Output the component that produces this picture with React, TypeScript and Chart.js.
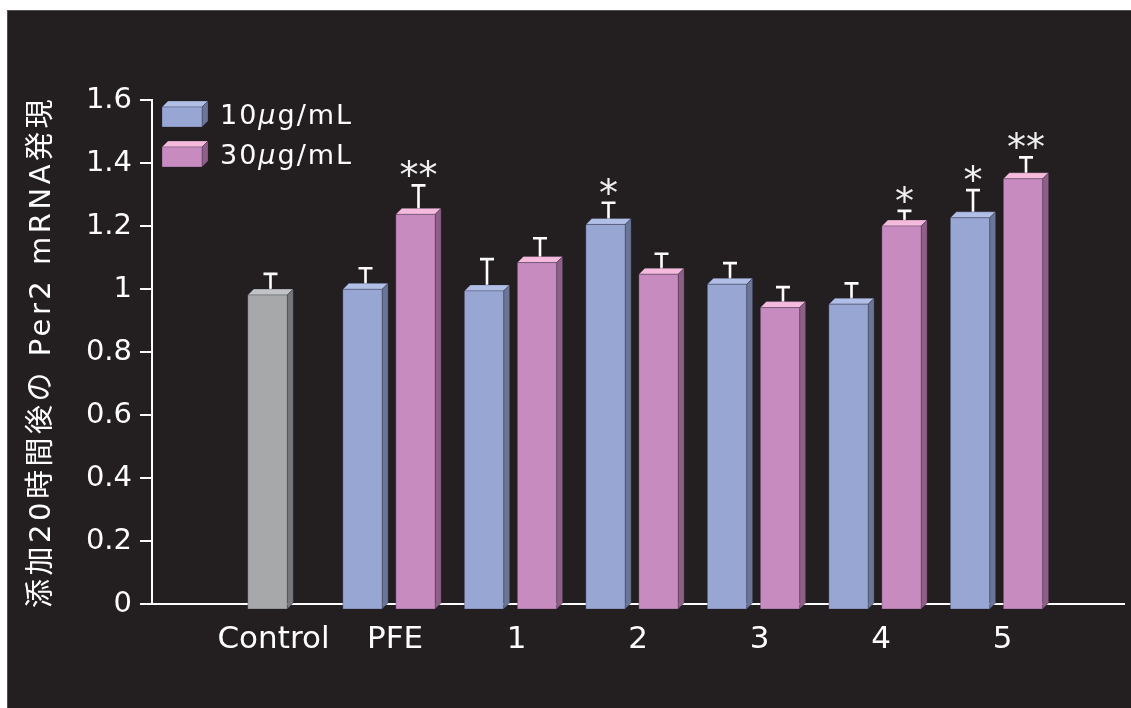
import React, { useEffect, useRef } from 'react';
import { Chart, registerables } from 'chart.js';
Chart.register(...registerables);

// ---- data ----
const categories = ['Control', 'PFE', '1', '2', '3', '4', '5'];
const controlValues = [1.0, null, null, null, null, null, null];
const controlErrors = [0.048, null, null, null, null, null, null];
const controlMarks = ['', '', '', '', '', '', ''];
const low10Values = [null, 1.018, 1.013, 1.224, 1.034, 0.971, 1.245];
const low10Errors = [null, 0.048, 0.082, 0.05, 0.048, 0.047, 0.069];
const low10Marks = ['', '', '', '*', '', '', '*'];
const high30Values = [null, 1.256, 1.103, 1.066, 0.96, 1.219, 1.369];
const high30Errors = [null, 0.073, 0.058, 0.046, 0.046, 0.029, 0.049];
const high30Marks = ['', '**', '', '', '', '*', '**'];
const yTickValues = [0, 0.2, 0.4, 0.6, 0.8, 1, 1.2, 1.4, 1.6];
const legendLabels = [
  ['10', 'μ', 'g/mL'],
  ['30', 'μ', 'g/mL'],
];
const yTitle = '添加20時間後の Per2 mRNA発現';

// ---- styles ----
const FONT = '"DejaVu Sans", "Noto Sans CJK JP", sans-serif';
const DEPTH = 6;
const grayFaces = { front: '#a7a8aa', top: '#c2c3c5', side: '#76777a' };
const blueFaces = { front: '#98a6d3', top: '#b1bee6', side: '#6a7598' };
const pinkFaces = { front: '#c78bbf', top: '#f6bbdc', side: '#8f5f88' };

function poly(ctx: CanvasRenderingContext2D, pts: number[][], fill: string) {
  ctx.beginPath();
  ctx.moveTo(pts[0][0], pts[0][1]);
  for (let i = 1; i < pts.length; i++) ctx.lineTo(pts[i][0], pts[i][1]);
  ctx.closePath();
  ctx.fillStyle = fill;
  ctx.fill();
  ctx.strokeStyle = 'rgba(30,30,50,0.35)';
  ctx.lineWidth = 0.8;
  ctx.stroke();
}

function box3d(ctx: CanvasRenderingContext2D, left: number, right: number, top: number, bottom: number, faces: any) {
  // back face spans left..right, top..bottom; front face shifted by (-DEPTH, +DEPTH)
  poly(ctx, [[left - DEPTH, top + DEPTH], [left, top], [right, top], [right - DEPTH, top + DEPTH]], faces.top);
  poly(ctx, [[right - DEPTH, top + DEPTH], [right, top], [right, bottom], [right - DEPTH, bottom + DEPTH]], faces.side);
  poly(ctx, [[left - DEPTH, top + DEPTH], [right - DEPTH, top + DEPTH], [right - DEPTH, bottom + DEPTH], [left - DEPTH, bottom + DEPTH]], faces.front);
}

const bars3dPlugin = {
  id: 'bars3d',
  afterDatasetsDraw(chart: any) {
    const ctx: CanvasRenderingContext2D = chart.ctx;
    const yScale = chart.scales.y;
    ctx.save();
    chart.data.datasets.forEach((ds: any, di: number) => {
      const meta = chart.getDatasetMeta(di);
      meta.data.forEach((el: any, i: number) => {
        const v = ds.values[i];
        if (v === null || v === undefined) return;
        const { x, y, base, width } = el.getProps(['x', 'y', 'base', 'width'], true);
        const left = x - width / 2;
        const right = x + width / 2;
        const err = ds.errors[i];
        const sx = x - DEPTH / 2;
        const eTop = yScale.getPixelForValue(v + err);
        // error bar
        ctx.strokeStyle = '#ffffff';
        ctx.lineWidth = 2.6;
        ctx.beginPath();
        ctx.moveTo(sx, y + DEPTH / 2);
        ctx.lineTo(sx, eTop);
        ctx.moveTo(sx - 7, eTop);
        ctx.lineTo(sx + 7, eTop);
        ctx.stroke();
        box3d(ctx, left, right, y, base, ds.faces);
        // significance marks
        const mark = ds.marks[i];
        if (mark) {
          ctx.font = '38px "DejaVu Sans"';
          ctx.fillStyle = '#f0f0f0';
          ctx.textAlign = 'center';
          ctx.textBaseline = 'alphabetic';
          const m = ctx.measureText('*');
          const asc = m.actualBoundingBoxAscent;
          const desc = m.actualBoundingBoxDescent;
          const cy = eTop - 17;
          const baseline = cy - (desc - asc) / 2;
          ctx.fillText(mark, sx, baseline);
        }
      });
    });
    ctx.restore();
  },
};

const legendPlugin = {
  id: 'legend3d',
  afterDraw(chart: any) {
    const ctx: CanvasRenderingContext2D = chart.ctx;
    const area = chart.chartArea;
    const facesList = [blueFaces, pinkFaces];
    ctx.save();
    legendLabels.forEach((parts, k) => {
      const frontLeft = area.left + 10;
      const frontTop = area.top + 7 + k * 40;
      const w = 40;
      const h = 20;
      box3d(ctx, frontLeft + DEPTH, frontLeft + DEPTH + w, frontTop - DEPTH, frontTop + h - DEPTH, facesList[k]);
      const size = 27;
      const capCenter = frontTop + 7;
      const baseline = capCenter + 0.729 * size / 2;
      let tx = frontLeft + 58;
      ctx.fillStyle = '#ffffff';
      ctx.textAlign = 'left';
      ctx.textBaseline = 'alphabetic';
      (ctx as any).letterSpacing = '2px';
      parts.forEach((p, j) => {
        ctx.font = (j === 1 ? 'italic ' : '') + size + 'px ' + FONT;
        ctx.fillText(p, tx, baseline);
        tx += ctx.measureText(p).width;
      });
    });
    // y axis title
    ctx.translate(area.left - 109.5, (area.top + area.bottom) / 2);
    ctx.rotate(-Math.PI / 2);
    ctx.font = '29px ' + FONT;
    (ctx as any).letterSpacing = '3.5px';
    ctx.fillStyle = '#ffffff';
    ctx.textAlign = 'center';
    ctx.textBaseline = 'middle';
    ctx.fillText(yTitle, 0, 0);
    ctx.restore();
  },
};

function toPoints(values: (number | null)[]) {
  return values.map((v, i) => ({ x: i, y: v }));
}

export default function App() {
  const ref = useRef<HTMLCanvasElement>(null);
  useEffect(() => {
    const common = {
      backgroundColor: 'rgba(0,0,0,0)',
      borderWidth: 0,
      categoryPercentage: 0.8724,
      barPercentage: 0.7415,
      maxBarThickness: 39.5,
      skipNull: true,
    };
    const chart = new Chart(ref.current!, {
      type: 'bar',
      data: {
        datasets: [
          { ...common, label: 'Control', data: toPoints(controlValues), values: controlValues, errors: controlErrors, marks: controlMarks, faces: grayFaces } as any,
          { ...common, label: '10μg/mL', data: toPoints(low10Values), values: low10Values, errors: low10Errors, marks: low10Marks, faces: blueFaces } as any,
          { ...common, label: '30μg/mL', data: toPoints(high30Values), values: high30Values, errors: high30Errors, marks: high30Marks, faces: pinkFaces } as any,
        ],
      },
      options: {
        animation: false,
        responsive: false,
        events: [],
        layout: { padding: { top: 90, right: 7, bottom: 0, left: 0 } },
        plugins: { legend: { display: false }, tooltip: { enabled: false }, title: { display: false } },
        scales: {
          x: {
            type: 'linear',
            offset: false,
            min: -1,
            max: 7,
            afterBuildTicks: (scale: any) => {
              scale.ticks = categories.map((_, i) => ({ value: i }));
            },
            afterFit: (scale: any) => {
              scale.height = 104;
            },
            grid: { display: false, drawTicks: false, offset: false },
            border: { display: true, color: '#ffffff', width: 2 },
            ticks: {
              color: '#ffffff',
              padding: 17,
              maxRotation: 0,
              autoSkip: false,
              font: { family: FONT, size: 31 },
              callback: (v: any) => categories[Math.round(Number(v))] ?? '',
            },
          },
          y: {
            type: 'linear',
            min: 0,
            max: 1.6,
            afterBuildTicks: (scale: any) => {
              scale.ticks = yTickValues.map((v) => ({ value: v }));
            },
            afterFit: (scale: any) => {
              scale.width = 145;
            },
            grid: { drawOnChartArea: false, drawTicks: true, tickLength: 12, color: '#ffffff', lineWidth: 2 },
            border: { display: true, color: '#ffffff', width: 2 },
            ticks: {
              color: '#ffffff',
              padding: 8,
              font: { family: FONT, size: 29 },
              callback: (v: any) => String(Math.round(Number(v) * 10) / 10),
            },
          },
        },
      } as any,
      plugins: [bars3dPlugin, legendPlugin],
    });
    return () => chart.destroy();
  }, []);
  return (
    <div style={{ position: 'absolute', left: 0, top: 0, width: 1131, height: 708, background: '#ffffff', overflow: 'hidden' }}>
      <div style={{ position: 'absolute', left: 7, top: 10, width: 1124, height: 698, background: '#231f20', boxShadow: 'inset 1px 1px 0 #55524f' }}>
        <canvas ref={ref} width={1124} height={698} style={{ display: 'block' }} />
      </div>
    </div>
  );
}
